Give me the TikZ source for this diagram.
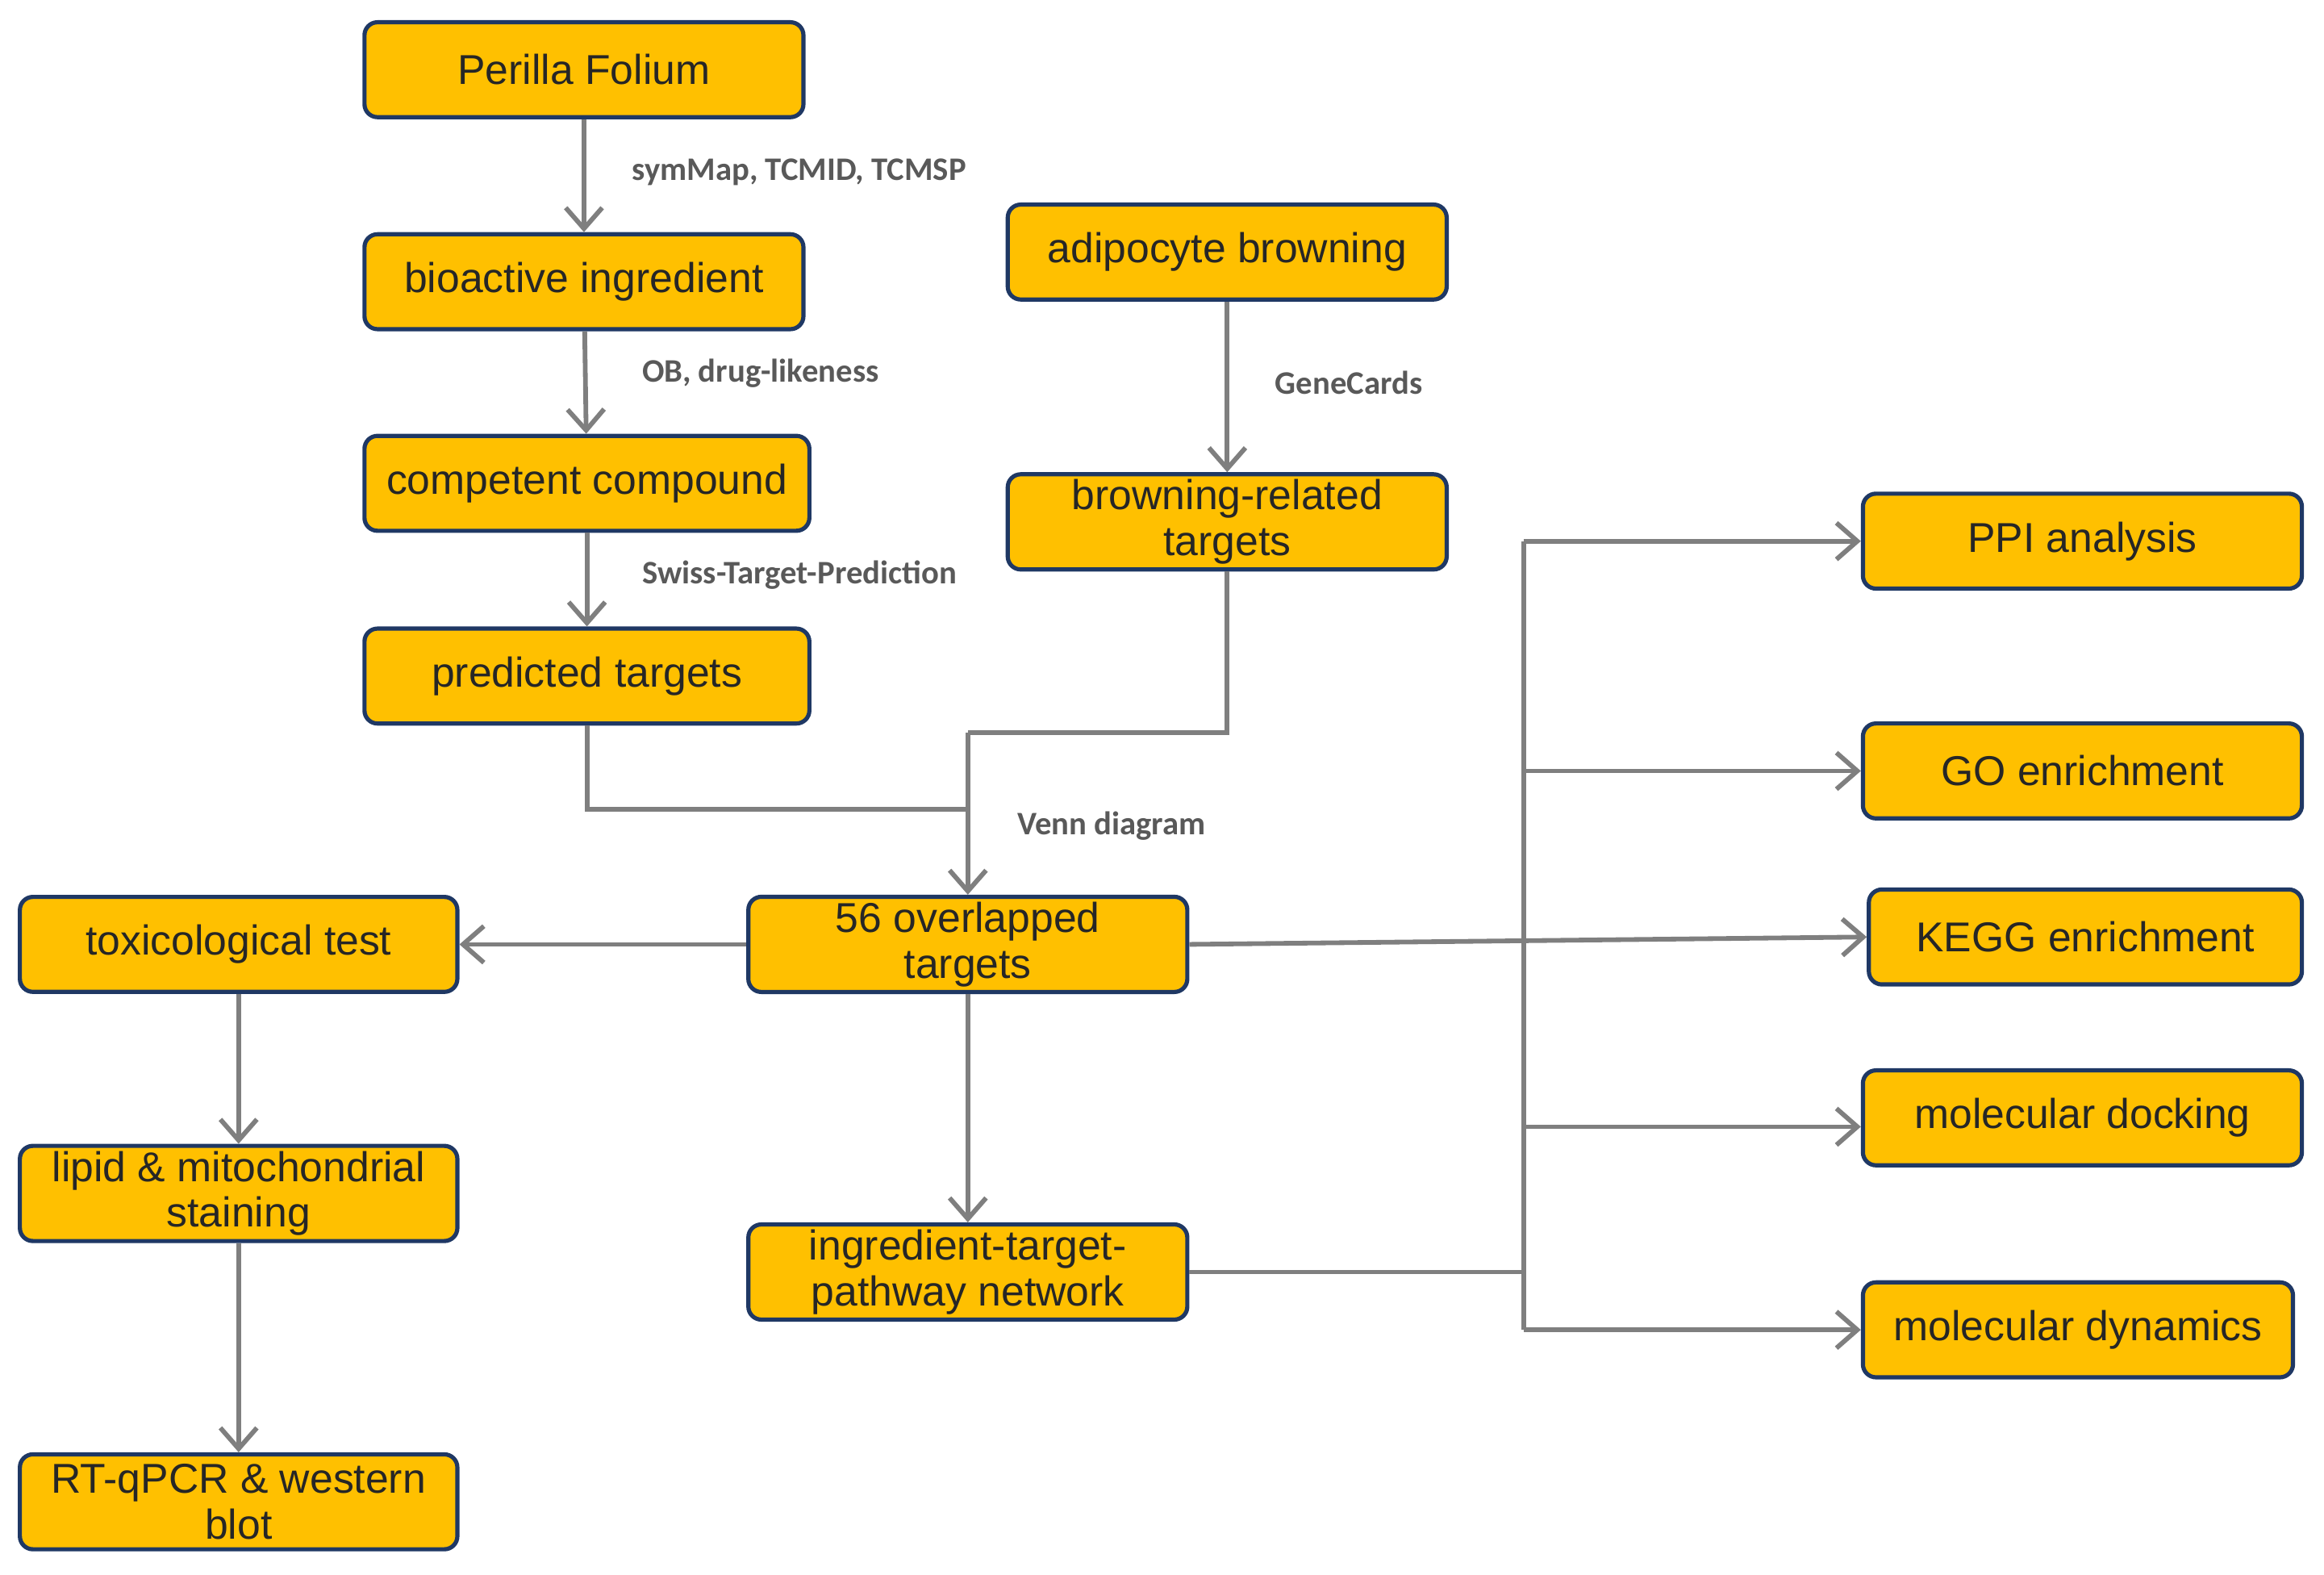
\documentclass[tikz,border=0pt]{standalone}
\usepackage{fontspec}
\setmainfont{Liberation Sans}
\newfontfamily\lblfont{Carlito}
\usetikzlibrary{arrows.meta}
\definecolor{boxfill}{HTML}{FFC000}
\definecolor{boxdraw}{HTML}{1F3864}
\definecolor{conn}{HTML}{7F7F7F}
\begin{document}
\begin{tikzpicture}[x=0.01cm,y=-0.01cm,
  box/.style={draw=boxdraw,line width=0.8pt,fill=boxfill,rounded corners=2.5pt,minimum width=2.96cm,minimum height=0.64cm,inner sep=1pt,align=center,font=\fontsize{8}{8.8}\selectfont,text=black!85},
  arr/.style={draw=conn,line width=0.9pt,-{Straight Barb[length=4pt,width=7pt]}},
  ln/.style={draw=conn,line width=0.9pt},
  lbl/.style={font=\lblfont\bfseries\fontsize{6.3}{7}\selectfont,text=black!65,anchor=west}]
\useasboundingbox (0,0) rectangle (1568,1062);
\node[box] (per) at (394,47) {Perilla Folium};
\node[box] (bio) at (394,190) {bioactive ingredient};
\node[box,minimum width=3.0cm] (comp) at (396,326) {competent compound};
\node[box,minimum width=3.0cm] (pred) at (396,456) {predicted targets};
\node[box] (adi) at (828,170) {adipocyte browning};
\node[box] (brw) at (828,352) {browning-related\\targets};
\node[box] (ov) at (653,637) {56 overlapped\\targets};
\node[box] (net) at (653,858) {ingredient-target-\\pathway network};
\node[box,minimum width=2.95cm] (tox) at (161,637) {toxicological test};
\node[box,minimum width=2.95cm] (lip) at (161,805) {lipid \& mitochondrial\\staining};
\node[box,minimum width=2.95cm] (rt) at (161,1013) {RT-qPCR \& western\\blot};
\node[box] (ppi) at (1405,365) {PPI analysis};
\node[box] (go) at (1405,520) {GO enrichment};
\node[box,minimum width=2.92cm] (kegg) at (1407,632) {KEGG enrichment};
\node[box] (dock) at (1405,754) {molecular docking};
\node[box,minimum width=2.90cm] (dyn) at (1402,897) {molecular dynamics};

\draw[arr] (per) -- (bio);
\draw[arr] (bio) -- (comp);
\draw[arr] (comp) -- (pred);
\draw[arr] (adi) -- (brw);
\coordinate (j1) at (653,546);
\coordinate (j2) at (653,494);
\draw[ln] (pred.south) |- (j1);
\draw[ln] (brw.south) |- (j2);
\draw[arr] (j2) -- (ov.north);
\draw[arr] (ov) -- (tox);
\draw[arr] (tox) -- (lip);
\draw[arr] (lip) -- (rt);
\draw[arr] (ov) -- (net);
\draw[arr] (ov.east) -- (kegg.west);
\coordinate (bt) at (1028,365);
\coordinate (bb) at (1028,897);
\coordinate (bn) at (1028,858);
\draw[ln] (bt) -- (bb);
\draw[ln] (net.east) -- (bn);
\draw[arr] (bt) -- (ppi.west);
\draw[arr] (1028,520) coordinate (bg) -- (go.west);
\draw[arr] (1028,760) coordinate (bd) -- (dock.west|-bd);
\draw[arr] (bb) -- (dyn.west);

\node[lbl] at (414,116) {symMap, TCMID, TCMSP};
\node[lbl] at (421,252) {OB, drug-likeness};
\node[lbl] at (421,388) {Swiss-Target-Prediction};
\node[lbl] at (848,258) {GeneCards};
\node[lbl] at (674,557) {Venn diagram};
\end{tikzpicture}
\end{document}
